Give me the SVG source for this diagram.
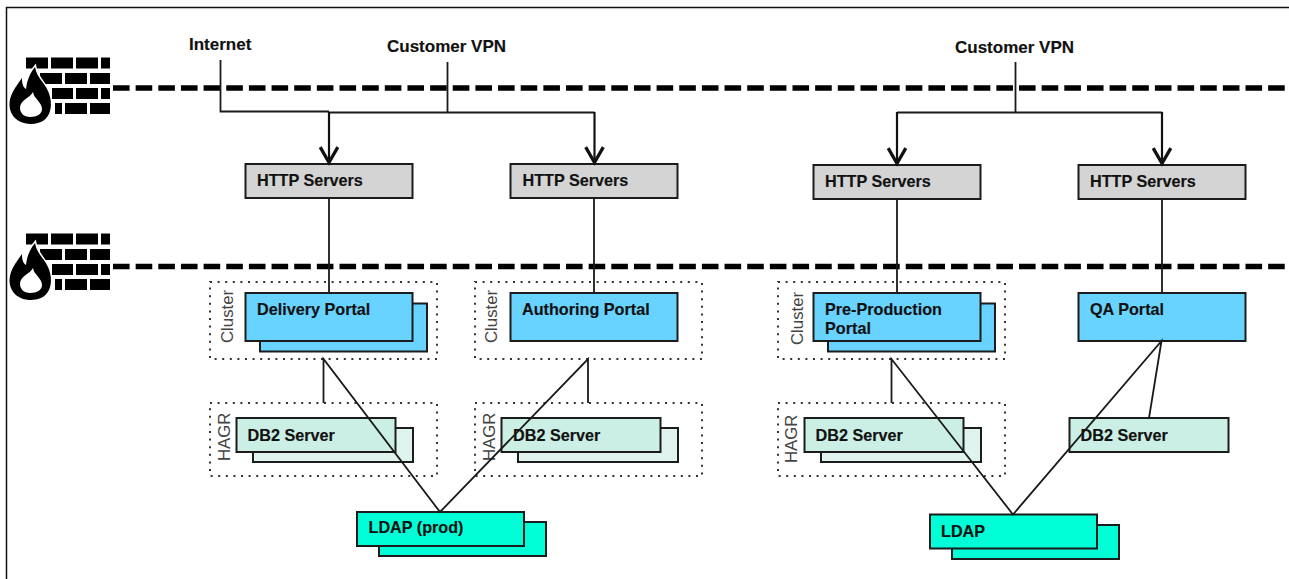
<svg xmlns="http://www.w3.org/2000/svg" width="1289" height="579" viewBox="0 0 1289 579">
<style>
text{font-family:"Liberation Sans",Arial,sans-serif;fill:#111}
.l{font-size:16.2px;font-weight:bold;stroke:#111;stroke-width:.15}
.t{font-size:17px;font-weight:bold;stroke:#111;stroke-width:.15}
.r{font-size:16.8px;fill:#444}
.box{stroke:#1c1c1c;stroke-width:2}
.http{fill:#d4d4d4}
.portal{fill:#69d3ff}
.db{fill:#cbefe4}
.dbb{fill:#dff4ee}
.ldap{fill:#00ffd7}
.dot{fill:none;stroke:#333;stroke-width:2;stroke-dasharray:2 5.6}
.c{fill:none;stroke:#1a1a1a;stroke-width:1.8}
.a{fill:none;stroke:#111;stroke-width:2.2;marker-end:url(#v)}
.fw{fill:none;stroke:#000;stroke-width:5.5;stroke-dasharray:16.6 6.05}
</style>
<defs>
<marker id="v" markerUnits="userSpaceOnUse" markerWidth="22" markerHeight="22" refX="16" refY="10" orient="auto" viewBox="0 0 20 20">
<path d="M2 2L16 10L2 18" fill="none" stroke="#111" stroke-width="3"/>
</marker>
<filter id="soft" x="-5%" y="-5%" width="110%" height="110%"><feGaussianBlur stdDeviation="0.7"/></filter>
<g id="firewall" filter="url(#soft)">
<path fill="#000" d="M26 57.5h22v11h-22zM51 57.5h22v11h-22zM76 57.5h22v11h-22zM101 57.5h9v11h-9zM40 73h22v11h-22zM65 73h22v11h-22zM90 73h20v11h-20zM52 88h21v11h-21zM76 88h22v11h-22zM101 88h9v11h-9zM55 103h7v11h-7zM65 103h22v11h-22zM90 103h20v11h-20z"/>
<path fill="#000" stroke="#fff" stroke-width="3" paint-order="stroke" d="M35 67C37 78 44 82 48 91C54 104 52 124 31 124C14 124 6 110 11 96C13 90 17 85 22 78C22 84 23 87 26 89C27 80 30 73 35 67Z"/>
<path fill="#fff" d="M33 92C34 99 42 102 42 109C42 114 37 117 30 117C24 117 20 113 20 108C20 100 30 98 33 92Z"/>
</g>
</defs>
<rect width="1289" height="579" fill="#fff"/>
<path d="M6.5 579V7.5H1289" fill="none" stroke="#111" stroke-width="1.5"/>
<g id="firewalls">
<use href="#firewall"/>
<use href="#firewall" y="176"/>
<path class="fw" d="M113 88H1289"/>
<path class="fw" d="M113 266.5H1289"/>
</g>
<g id="labels">
<text class="t" x="189" y="50">Internet</text>
<text class="t" x="387" y="52">Customer VPN</text>
<text class="t" x="955" y="53">Customer VPN</text>
</g>
<g id="cluster-delivery"><rect class="dot" x="210" y="282" width="227" height="77"/><text class="r" transform="translate(232.5 343) rotate(-90)">Cluster</text></g>
<g id="cluster-authoring"><rect class="dot" x="475" y="282" width="227" height="77"/><text class="r" transform="translate(496.5 343) rotate(-90)">Cluster</text></g>
<g id="cluster-preprod"><rect class="dot" x="778" y="282" width="227" height="77"/><text class="r" transform="translate(802.5 345) rotate(-90)">Cluster</text></g>
<g id="hagr-delivery"><rect class="dot" x="210" y="403" width="227" height="73"/><text class="r" transform="translate(229.5 461) rotate(-90)">HAGR</text></g>
<g id="hagr-authoring"><rect class="dot" x="475" y="403" width="227" height="73"/><text class="r" transform="translate(494.5 461) rotate(-90)">HAGR</text></g>
<g id="hagr-preprod"><rect class="dot" x="778" y="403" width="227" height="73"/><text class="r" transform="translate(796.5 463) rotate(-90)">HAGR</text></g>
<g id="http-1"><rect class="box http" x="245.5" y="164" width="167" height="34"/><text class="l" x="257" y="186">HTTP Servers</text></g>
<g id="http-2"><rect class="box http" x="510.5" y="164" width="167" height="34"/><text class="l" x="522.5" y="186">HTTP Servers</text></g>
<g id="http-3"><rect class="box http" x="813.5" y="165" width="167" height="34"/><text class="l" x="825" y="187">HTTP Servers</text></g>
<g id="http-4"><rect class="box http" x="1078.5" y="165" width="167" height="34"/><text class="l" x="1090" y="187">HTTP Servers</text></g>
<g id="delivery-portal"><rect class="box portal" x="260" y="303.5" width="167" height="48"/><rect class="box portal" x="245.5" y="293" width="167" height="48"/><text class="l" x="257" y="315">Delivery Portal</text></g>
<g id="authoring-portal"><rect class="box portal" x="510.5" y="293" width="167" height="48"/><text class="l" x="522" y="315">Authoring Portal</text></g>
<g id="preprod-portal"><rect class="box portal" x="828" y="303.5" width="167" height="48"/><rect class="box portal" x="813.5" y="293" width="167" height="48"/><text class="l" x="825" y="315">Pre-Production</text><text class="l" x="825" y="334">Portal</text></g>
<g id="qa-portal"><rect class="box portal" x="1078.5" y="293" width="167" height="48"/><text class="l" x="1090" y="315">QA Portal</text></g>
<g id="db2-1"><rect class="box dbb" x="253" y="428" width="160" height="34"/><rect class="box db" x="236.5" y="418" width="159" height="34"/><text class="l" x="247.5" y="441">DB2 Server</text></g>
<g id="db2-2"><rect class="box dbb" x="518" y="428" width="160" height="34"/><rect class="box db" x="501.5" y="418" width="159" height="34"/><text class="l" x="513" y="441">DB2 Server</text></g>
<g id="db2-3"><rect class="box dbb" x="821" y="428" width="160" height="34"/><rect class="box db" x="804.5" y="418" width="159" height="34"/><text class="l" x="815.5" y="441">DB2 Server</text></g>
<g id="db2-4"><rect class="box db" x="1069.5" y="418" width="159" height="34"/><text class="l" x="1080.5" y="441">DB2 Server</text></g>
<g id="ldap-prod"><rect class="box ldap" x="379" y="522" width="167" height="34"/><rect class="box ldap" x="357" y="512" width="167" height="34"/><text class="l" x="368.5" y="533">LDAP (prod)</text></g>
<g id="ldap"><rect class="box ldap" x="952" y="525" width="167" height="34"/><rect class="box ldap" x="930" y="514.5" width="167" height="34"/><text class="l" x="941" y="536.5">LDAP</text></g>
<g id="connectors">
<path class="c" d="M220.5 60V111.5H329M329 112.5H594.5M447.5 62V112.5"/>
<path class="c" d="M1015.5 62V112.5M897 112.5H1162"/>
<path class="a" d="M329 112V162.5"/>
<path class="a" d="M594.5 112V162.5"/>
<path class="a" d="M897 112V163.5"/>
<path class="a" d="M1162 112V163.5"/>
<path class="c" d="M329 198V293M594 198V293M897 199V293M1162 199V293"/>
<path class="c" d="M323.5 403V359L440 512L588 359V403"/>
<path class="c" d="M891.5 403V359L1013 514.5L1161.5 341L1149 418"/>
</g>
</svg>
